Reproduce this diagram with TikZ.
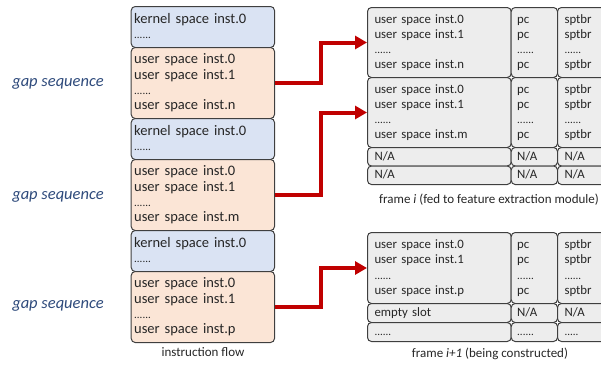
\documentclass[tikz,border=0pt]{standalone}
\usepackage{fontspec}
\setmainfont{Carlito}
\usetikzlibrary{arrows.meta}

\definecolor{kernfill}{HTML}{DAE3F3}
\definecolor{userfill}{HTML}{FBE5D6}
\definecolor{cellfill}{HTML}{EDEDED}
\definecolor{edgegray}{HTML}{3F3F3F}
\definecolor{flowred}{HTML}{C00000}
\definecolor{gapblue}{HTML}{2F4B7C}
\definecolor{inktext}{HTML}{262626}

% every text line gets the same height and depth
\newcommand\cellline[1]{\vphantom{lp}#1}
\newcommand\celldots{\vphantom{lp}{\fontsize{11}{11}\selectfont ......}}

\tikzset{
  box/.style={draw=edgegray, line width=1pt, rounded corners=4pt,
    anchor=north west, inner ysep=0pt, align=left, text=inktext,
    font=\fontsize{14.5}{15.3}\selectfont},
  kernbox/.style={box, fill=kernfill, inner xsep=3pt, text width=137.3pt, minimum height=41pt},
  userbox/.style={box, fill=userfill, inner xsep=3pt, text width=137.3pt, minimum height=71pt},
  fcell/.style={box, fill=cellfill, font=\fontsize{12.8}{15.2}\selectfont},
  mcell/.style={fcell, inner xsep=7pt, text width=129.7pt},
  pcell/.style={fcell, inner xsep=6pt, text width=34.3pt},
  scell/.style={fcell, inner xsep=7pt, text width=36pt},
  flow/.style={draw=flowred, line width=4pt, -{Triangle[length=12pt,width=13pt]}},
  gaplabel/.style={text=gapblue, font=\fontsize{16.5}{18}\selectfont\itshape, anchor=base, inner sep=0pt},
  caption/.style={text=inktext, font=\fontsize{13}{15}\selectfont, anchor=base, inner sep=0pt},
}

\begin{document}
\begin{tikzpicture}[x=1pt, y=-1pt]
\useasboundingbox (0,0) rectangle (601,364);
\clip (0,0) rectangle (601,364);

% instruction flow column
\node[kernbox] (k1) at (130.7,6)   {\cellline{kernel space inst.0}\\\celldots};
\node[userbox] (u1) at (130.7,47)  {\cellline{user space inst.0}\\\cellline{user space inst.1}\\\celldots\\\cellline{user space inst.n}};
\node[kernbox] (k2) at (130.7,118) {\cellline{kernel space inst.0}\\\celldots};
\node[userbox] (u2) at (130.7,159) {\cellline{user space inst.0}\\\cellline{user space inst.1}\\\celldots\\\cellline{user space inst.m}};
\node[kernbox] (k3) at (130.7,230) {\cellline{kernel space inst.0}\\\celldots};
\node[userbox] (u3) at (130.7,271) {\cellline{user space inst.0}\\\cellline{user space inst.1}\\\celldots\\\cellline{user space inst.p}};

\node[caption] (capflow) at (203,356) {instruction flow};

% gap sequence labels
\node[gaplabel] (g1) at (58,86.5)  {gap sequence};
\node[gaplabel] (g2) at (58,199)   {gap sequence};
\node[gaplabel] (g3) at (58,308.5) {gap sequence};

% frame i
\node[mcell, minimum height=70pt] (a1)   at (367,7)     {\cellline{user space inst.0}\\\cellline{user space inst.1}\\\celldots\\\cellline{user space inst.n}};
\node[pcell, minimum height=70pt] (a1pc) at (510.7,7)   {\cellline{pc}\\\cellline{pc}\\\celldots\\\cellline{pc}};
\node[scell, minimum height=70pt] (a1sp) at (557,7)     {\cellline{sptbr}\\\cellline{sptbr}\\\celldots\\\cellline{sptbr}};
\node[mcell, minimum height=70pt] (a2)   at (367,77)    {\cellline{user space inst.0}\\\cellline{user space inst.1}\\\celldots\\\cellline{user space inst.m}};
\node[pcell, minimum height=70pt] (a2pc) at (510.7,77)  {\cellline{pc}\\\cellline{pc}\\\celldots\\\cellline{pc}};
\node[scell, minimum height=70pt] (a2sp) at (557,77)    {\cellline{sptbr}\\\cellline{sptbr}\\\celldots\\\cellline{sptbr}};
\node[mcell, minimum height=18.5pt] (a3)   at (367,147)   {\cellline{N/A}};
\node[pcell, minimum height=18.5pt] (a3pc) at (510.7,147) {\cellline{N/A}};
\node[scell, minimum height=18.5pt] (a3sp) at (557,147)   {\cellline{N/A}};
\node[mcell, minimum height=18.5pt] (a4)   at (367,165.5)   {\cellline{N/A}};
\node[pcell, minimum height=18.5pt] (a4pc) at (510.7,165.5) {\cellline{N/A}};
\node[scell, minimum height=18.5pt] (a4sp) at (557,165.5)   {\cellline{N/A}};

\node[caption] (capi) at (489,203.5) {frame \textit{i} (fed to feature extraction module)};

% frame i+1
\node[mcell, minimum height=71pt] (b1)   at (367,232)   {\cellline{user space inst.0}\\\cellline{user space inst.1}\\\celldots\\\cellline{user space inst.p}};
\node[pcell, minimum height=71pt] (b1pc) at (510.7,232) {\cellline{pc}\\\cellline{pc}\\\celldots\\\cellline{pc}};
\node[scell, minimum height=71pt] (b1sp) at (557,232)   {\cellline{sptbr}\\\cellline{sptbr}\\\celldots\\\cellline{sptbr}};
\node[mcell, minimum height=19pt] (b2)   at (367,303)   {\cellline{empty slot}};
\node[pcell, minimum height=19pt] (b2pc) at (510.7,303) {\cellline{N/A}};
\node[scell, minimum height=19pt] (b2sp) at (557,303)   {\cellline{N/A}};
\node[mcell, minimum height=19pt] (b3)   at (367,322)   {\celldots};
\node[pcell, minimum height=19pt] (b3pc) at (510.7,322) {\celldots};
\node[scell, minimum height=19pt] (b3sp) at (557,322)   {\vphantom{lp}{\fontsize{11}{11}\selectfont .....}};

\node[caption] (capj) at (490,357.5) {frame \textit{i+1} (being constructed)};

% feeding arrows
\draw[flow] (u1.east) -- ++(46,0) |- (a1.west);
\draw[flow] (u2.east) -- ++(46,0) |- (a2.west);
\draw[flow] (u3.east) -- ++(46,0) |- (b1.west);
\end{tikzpicture}
\end{document}
